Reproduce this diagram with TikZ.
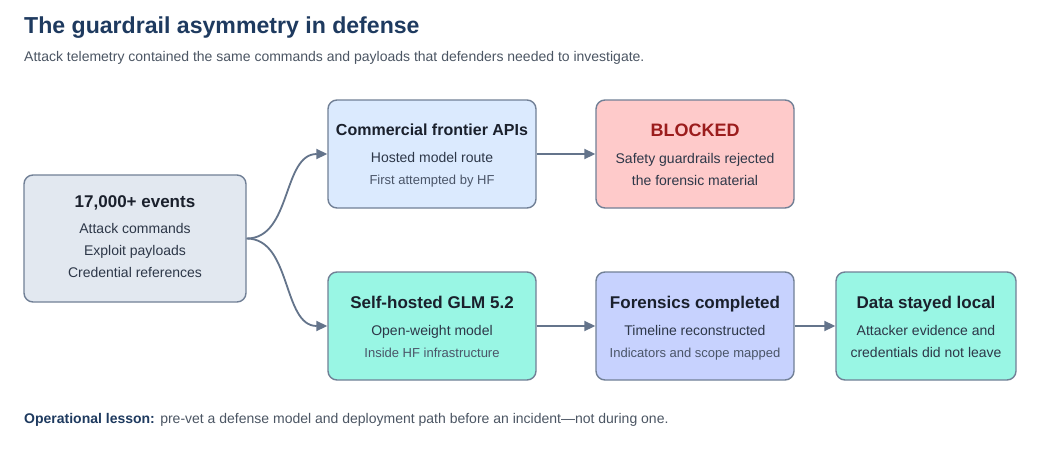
\documentclass[tikz,border=0pt]{standalone}
\usepackage{fontspec}
\setmainfont{Liberation Sans}
\usetikzlibrary{arrows.meta}
\definecolor{navy}{HTML}{1E3A5F}
\definecolor{subgray}{HTML}{4B5563}
\definecolor{edge}{HTML}{64748B}
\definecolor{bordc}{HTML}{718096}
\definecolor{titc}{HTML}{1A202C}
\definecolor{bodyc}{HTML}{2D3748}
\definecolor{smallc}{HTML}{4A5568}
\definecolor{evfill}{HTML}{E2E8F0}
\definecolor{comfill}{HTML}{DBEAFE}
\definecolor{blkfill}{HTML}{FECACA}
\definecolor{blkred}{HTML}{9B1C1C}
\definecolor{tealfill}{HTML}{99F6E4}
\definecolor{indfill}{HTML}{C7D2FE}
\tikzset{
  box/.style={draw=bordc, line width=1.4pt, rounded corners=9pt, inner sep=0pt},
  ttl/.style={font=\fontsize{17}{20}\selectfont\bfseries, text=titc, anchor=base},
  bodytxt/.style={font=\fontsize{14}{16}\selectfont, text=bodyc, anchor=base},
  smalltxt/.style={font=\fontsize{13}{15}\selectfont, text=smallc, anchor=base},
  arr/.style={draw=edge, line width=1.8pt, -{Triangle[length=11pt,width=10pt]}},
}
\begin{document}
\begin{tikzpicture}[x=1pt,y=-1pt]
\useasboundingbox (0,0) rectangle (1040,455);
\fill[white] (0,0) rectangle (1040,455);
% title
\node[anchor=base west, inner sep=0pt, font=\fontsize{23.1}{26}\selectfont\bfseries, text=navy] (title) at (24,33) {The guardrail asymmetry in defense};
\node[anchor=base west, inner sep=0pt, font=\fontsize{14}{16}\selectfont, text=subgray] (sub) at (24,61) {Attack telemetry contained the same commands and payloads that defenders needed to investigate.};
% boxes
\node[box, fill=evfill, minimum width=222pt, minimum height=127pt] (ev) at (135,238.5) {};
\node[box, fill=comfill, minimum width=208pt, minimum height=108pt] (com) at (432,154) {};
\node[box, fill=blkfill, minimum width=198pt, minimum height=108pt] (blk) at (695,154) {};
\node[box, fill=tealfill, minimum width=208pt, minimum height=108pt] (glm) at (432,326) {};
\node[box, fill=indfill, minimum width=198pt, minimum height=108pt] (for) at (695,326) {};
\node[box, fill=tealfill, minimum width=180pt, minimum height=108pt] (loc) at (926,326) {};
% events text
\node[ttl] (evt) at (135,207) {17,000+ events};
\node[bodytxt] (ev1) at (135,233) {Attack commands};
\node[bodytxt] (ev2) at (135,255) {Exploit payloads};
\node[bodytxt] (ev3) at (135,277) {Credential references};
% commercial
\node[ttl, font=\fontsize{16}{19}\selectfont\bfseries] (comt) at (432,135) {Commercial frontier APIs};
\node[bodytxt] (com1) at (432,162) {Hosted model route};
\node[smalltxt] (com2) at (432,184) {First attempted by HF};
% blocked
\node[ttl, font=\fontsize{18}{21}\selectfont\bfseries, text=blkred] (blkt) at (695,136) {BLOCKED};
\node[bodytxt] (blk1) at (695,163) {Safety guardrails rejected};
\node[bodytxt] (blk2) at (695,185) {the forensic material};
% glm
\node[ttl] (glmt) at (432,308) {Self-hosted GLM 5.2};
\node[bodytxt] (glm1) at (432,335) {Open-weight model};
\node[smalltxt] (glm2) at (432,357) {Inside HF infrastructure};
% forensics
\node[ttl] (fort) at (695,308) {Forensics completed};
\node[bodytxt] (for1) at (695,335) {Timeline reconstructed};
\node[smalltxt] (for2) at (695,357) {Indicators and scope mapped};
% local
\node[ttl] (loct) at (926,308) {Data stayed local};
\node[bodytxt] (loc1) at (926,335) {Attacker evidence and};
\node[bodytxt] (loc2) at (926,357) {credentials did not leave};
% connectors
\draw[arr] (ev.east) .. controls +(45,0) and +(-45,0) .. (com.west);
\draw[arr] (ev.east) .. controls +(45,0) and +(-45,0) .. (glm.west);
\draw[arr] (com.east) -- (blk.west);
\draw[arr] (glm.east) -- (for.west);
\draw[arr] (for.east) -- (loc.west);
% footer
\node[anchor=base west, inner sep=0pt, font=\fontsize{14}{16}\selectfont\bfseries, text=navy] (lesson) at (24,423) {Operational lesson:};
\node[anchor=base west, inner sep=0pt, font=\fontsize{14}{16}\selectfont, text=subgray] (lessontxt) at ([xshift=5pt]lesson.base east) {pre-vet a defense model and deployment path before an incident—not during one.};
\end{tikzpicture}
\end{document}
